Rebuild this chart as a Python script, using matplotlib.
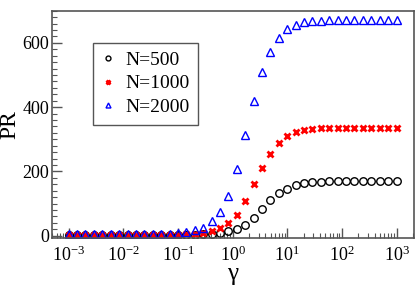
import matplotlib
matplotlib.use("Agg")
import matplotlib.pyplot as plt
from matplotlib.ticker import MultipleLocator, LogLocator, FixedLocator, NullFormatter

plt.rcParams['font.family'] = ['Liberation Serif', 'DejaVu Serif']
plt.rcParams['mathtext.fontset'] = 'stix'

gamma = [0.001, 0.001425, 0.002031, 0.002894, 0.004125, 0.005878, 0.008377,
         0.01194, 0.01701, 0.02424, 0.03455, 0.04924, 0.07017, 0.1,
         0.1425, 0.2031, 0.2894, 0.4125, 0.5878, 0.8377, 1.194, 1.701,
         2.424, 3.455, 4.924, 7.017, 10.0, 14.25, 20.31, 28.94, 41.25,
         58.78, 83.77, 119.4, 170.1, 242.4, 345.5, 492.4, 701.7, 1000.0]

pr_500 = [2, 2, 2, 2, 2, 2, 2, 2, 2, 2, 2, 2, 2, 2.5,
          3, 3.5, 4.5, 6, 8, 14, 21, 34,
          56, 83, 110, 132, 146, 157, 163, 166, 168,
          169, 169, 169, 169, 169, 169, 169, 169, 169]

pr_1000 = [3, 3, 3, 3, 3, 3, 3, 3, 3, 3, 3, 3, 3, 3,
           4, 5.5, 8, 16, 25, 40, 64, 107,
           160, 212, 255, 287, 309, 322, 328, 332, 334,
           336, 336, 336, 336, 336, 336, 336, 336, 336]

pr_2000 = [6, 6, 6, 6, 6, 6, 6, 6, 6, 6, 6, 6, 6.5, 8,
           11, 18, 25, 45, 74, 125, 206, 312,
           419, 509, 572, 616, 642, 656, 664, 667, 669,
           670, 670, 670, 670, 670, 670, 670, 670, 670]

labels = ['N=500', 'N=1000', 'N=2000']
xticks = [1e-3, 1e-2, 1e-1, 1e0, 1e1, 1e2, 1e3]

fig = plt.figure(figsize=(4.15, 2.85), dpi=100)
ax = fig.add_axes([0.1246, 0.1639, 0.873, 0.7986])

ax.plot(gamma, pr_500, linestyle='none', marker='o', markersize=5.4,
        markerfacecolor='none', markeredgecolor='black', markeredgewidth=1.0,
        label=labels[0])
ax.plot(gamma, pr_1000, linestyle='none', marker='x', markersize=4.0,
        color='red', markeredgewidth=2.0, label=labels[1])
ax.plot(gamma, pr_2000, linestyle='none', marker='^', markersize=5.5,
        markerfacecolor='none', markeredgecolor='blue', markeredgewidth=1.0,
        label=labels[2])

ax.set_xscale('log')
ax.set_xlim(10**-3.31, 10**3.32)
ax.set_ylim(-8, 700)
ax.yaxis.set_major_locator(MultipleLocator(200))
ax.yaxis.set_minor_locator(MultipleLocator(20))
ax.xaxis.set_major_locator(FixedLocator(xticks))
ax.xaxis.set_minor_locator(LogLocator(base=10, subs=range(2, 10), numticks=20))
ax.xaxis.set_minor_formatter(NullFormatter())

ax.tick_params(which='both', direction='in', top=False, right=False,
               color='#555555', labelsize=13)
ax.tick_params(which='major', length=7, width=1.0)
ax.tick_params(which='minor', length=3.5, width=0.8)
ax.tick_params(axis='x', pad=5)
ax.tick_params(axis='y', pad=2)

for s in ax.spines.values():
    s.set_color('#555555')
    s.set_linewidth(1.2)

ax.set_xlabel('γ', fontsize=18, labelpad=-1)
ax.set_ylabel('PR', fontsize=17, labelpad=1)

leg = ax.legend(loc='upper left', bbox_to_anchor=(0.115, 0.86), borderaxespad=0,
                numpoints=1, markerscale=0.65, fancybox=False, fontsize=14,
                handlelength=0.6, handletextpad=0.6, borderpad=0.45,
                labelspacing=0.3, framealpha=1)
leg.get_frame().set_edgecolor('#555555')
leg.get_frame().set_linewidth(1.0)

fig.savefig('out.png', dpi=100)
